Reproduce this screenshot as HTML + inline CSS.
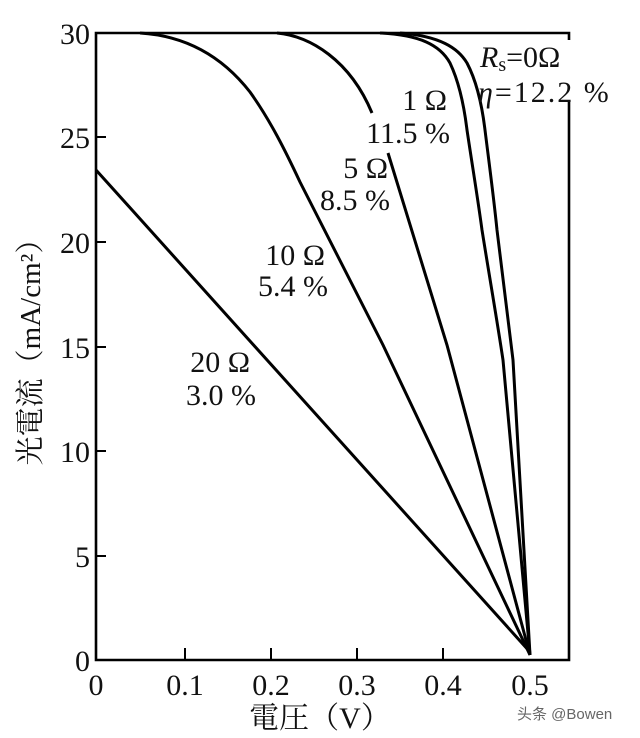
<!DOCTYPE html>
<html><head><meta charset="utf-8"><style>
body{margin:0;background:#fff;}
svg text{font-family:"Liberation Serif","Noto Serif CJK SC",serif;fill:#111;}
</style></head><body>
<svg width="640" height="733" viewBox="0 0 640 733" xmlns="http://www.w3.org/2000/svg">
<g stroke="#000" stroke-width="3" fill="none">
<polyline points="569,40 569,33 96,33 96,660 569,660 569,100" stroke-width="2.6"/>
<path d="M96,137 h10 M96,242 h10 M96,347 h10 M96,451 h10 M96,556 h10" stroke-width="2"/>
<path d="M185,660 v-12 M271,660 v-12 M357,660 v-12 M443,660 v-12" stroke-width="2"/>
<!-- Rs=0 -->
<path d="M400,33 C440,36 458,48 467,63 C477,82 482,105 485,130 C490,170 494,200 497,230 C503,280 508,320 513,360 L530,655"/>
<!-- 1 ohm -->
<path d="M380,33 C420,35 440,45 450,63 C459,82 464,105 467,130 C473,170 478,200 482,230 C490,280 497,320 503,360 L530,655"/>
<!-- 5 ohm -->
<path d="M277,33 C310,36 350,60 372,113"/>
<path d="M388,153 C410,225 430,290 447,345 L530,655"/>
<!-- 10 ohm -->
<path d="M140,33 C190,36 225,60 250,92 C270,120 285,150 300,182 L383,345 L530,655"/>
<!-- 20 ohm -->
<path d="M96,170 L530,652"/>
</g>
<g font-size="30">
<text x="480" y="67" font-style="italic">R<tspan font-size="20" font-style="normal" dy="4">s</tspan><tspan font-style="normal" dy="-4">=0Ω</tspan></text>
<text x="478" y="102" letter-spacing="2"><tspan font-style="italic">η</tspan>=12.2 %</text>
<text x="447" y="110" text-anchor="end">1 Ω</text>
<text x="450" y="143" text-anchor="end">11.5 %</text>
<text x="388" y="178" text-anchor="end">5 Ω</text>
<text x="390" y="210" text-anchor="end">8.5 %</text>
<text x="325" y="265" text-anchor="end">10 Ω</text>
<text x="328" y="296" text-anchor="end">5.4 %</text>
<text x="250" y="372" text-anchor="end">20 Ω</text>
<text x="256" y="405" text-anchor="end">3.0 %</text>
</g>
<g font-size="30" text-anchor="end">
<text x="90" y="44">30</text>
<text x="90" y="148">25</text>
<text x="90" y="253">20</text>
<text x="90" y="358">15</text>
<text x="90" y="462">10</text>
<text x="90" y="567">5</text>
<text x="90" y="671">0</text>
</g>
<g font-size="30" text-anchor="middle">
<text x="96" y="695">0</text>
<text x="185" y="695">0.1</text>
<text x="271" y="695">0.2</text>
<text x="357" y="695">0.3</text>
<text x="443" y="695">0.4</text>
<text x="530" y="695">0.5</text>
<text x="320" y="728" font-size="30">電圧（V）</text>
<text transform="translate(40,345) rotate(-90)" font-size="29">光電流（mA/cm²）</text>
</g>
<text x="517" y="719" font-size="15" style="font-family:'Liberation Sans','Noto Sans CJK SC',sans-serif;fill:#666">头条 @Bowen</text>
</svg>
</body></html>
